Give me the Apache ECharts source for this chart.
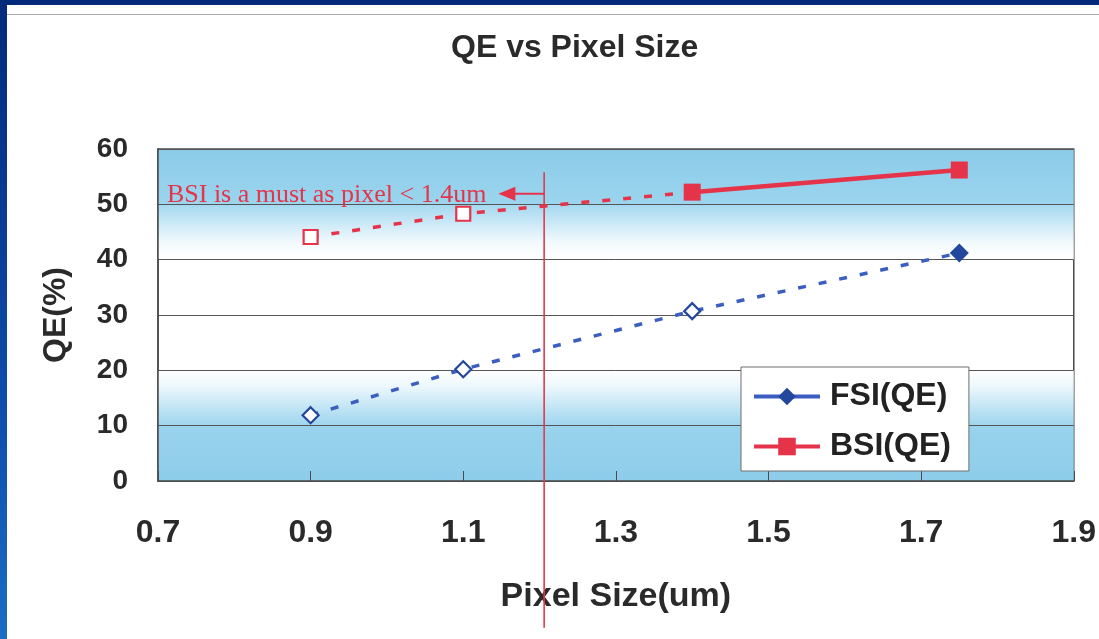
<!DOCTYPE html>
<html>
<head>
<meta charset="utf-8">
<title>QE vs Pixel Size</title>
<script src="https://cdn.jsdelivr.net/npm/echarts@6/dist/echarts.min.js"></script>
<style>
  html, body { margin: 0; padding: 0; background: #ffffff; }
  #chart { width: 1099px; height: 639px; }
</style>
</head>
<body>
<div id="chart"></div>
<script>
// Pixel size (um) of each sensor generation
const pixelSize = [0.9, 1.1, 1.4, 1.75];
// Quantum efficiency (%) for front-side and back-side illumination
const fsiQE = [11.9, 20.2, 30.7, 41.2];
const bsiQE = [44.1, 48.3, 52.2, 56.2];
// Measured points are filled; projected points are hollow and joined by dashes
const fsiMeasured = [false, false, false, true];
const bsiMeasured = [false, false, true, true];

// Axis ranges and steps
const xRange = [0.7, 1.9];
const xStep = 0.2;
const yRange = [0, 60];
const yStep = 10;

// Annotation: BSI becomes necessary below this pixel size
const noteText = 'BSI is a must as pixel < 1.4um';
const cutoffSize = 1.206;
const cutoffSpan = [55.8, -26.5];
const noteLevel = 51.9;
const arrowTipSize = 1.146;

const BLUE_LINE = '#3b5ec0';
const BLUE_MARK = '#24479e';
const RED = '#e5344a';
const FONT = '"Liberation Sans", Arial, sans-serif';

const chart = echarts.init(document.getElementById('chart'));

function grad(stops) {
  return { type: 'linear', x: 0, y: 0, x2: 0, y2: 1, colorStops: stops };
}

const fsiData = pixelSize.map((x, i) => ({
  value: [x, fsiQE[i]],
  symbolSize: fsiMeasured[i] ? 19 : 16,
  itemStyle: fsiMeasured[i]
    ? { color: BLUE_MARK, borderWidth: 0 }
    : { color: '#ffffff', borderColor: BLUE_MARK, borderWidth: 2.2 }
}));

const firstBsiMeasured = bsiMeasured.indexOf(true);
const bsiProjected = pixelSize.slice(0, firstBsiMeasured + 1).map((x, i) => ({
  value: [x, bsiQE[i]],
  symbol: bsiMeasured[i] ? 'none' : 'rect',
  symbolSize: 14,
  itemStyle: { color: '#ffffff', borderColor: RED, borderWidth: 2.2 }
}));
const bsiMeasuredData = pixelSize
  .map((x, i) => [x, bsiQE[i]])
  .filter((p, i) => bsiMeasured[i]);

const option = {
  animation: false,
  backgroundColor: '#ffffff',
  title: {
    text: 'QE vs Pixel Size',
    left: 446,
    top: 27,
    textStyle: { fontFamily: FONT, fontWeight: 'bold', fontSize: 32, color: '#2a2a2a' }
  },
  grid: {
    left: 158, top: 149, right: 21, bottom: 158,
    show: true, backgroundColor: '#ffffff',
    borderColor: '#4a4a4a', borderWidth: 1.5
  },
  legend: {
    orient: 'vertical',
    left: 741, top: 367,
    padding: [13, 18, 8, 11],
    itemWidth: 66, itemHeight: 22, itemGap: 17,
    backgroundColor: '#ffffff',
    borderColor: '#6e6e6e', borderWidth: 1,
    textStyle: { fontFamily: FONT, fontWeight: 'bold', fontSize: 32, color: '#222222', lineHeight: 33, padding: [0, 0, 0, 5] },
    data: [
      { name: 'FSI(QE)', itemStyle: { color: BLUE_MARK, borderWidth: 0 }, lineStyle: { type: 'solid', color: BLUE_LINE, width: 4 } },
      { name: 'BSI(QE)', itemStyle: { color: RED, borderWidth: 0 }, lineStyle: { type: 'solid', color: RED, width: 4 } }
    ]
  },
  xAxis: {
    type: 'value',
    min: xRange[0], max: xRange[1], interval: xStep,
    z: 1.5,
    name: 'Pixel Size(um)',
    nameLocation: 'middle',
    nameGap: 99,
    nameTextStyle: { fontFamily: FONT, fontWeight: 'bold', fontSize: 34, color: '#2a2a2a' },
    axisLine: { show: true, lineStyle: { color: '#4a4a4a', width: 1.5 } },
    axisTick: { show: true, inside: true, length: 10, lineStyle: { color: '#4a4a4a', width: 1 } },
    splitLine: { show: false },
    axisLabel: {
      margin: 36,
      fontFamily: FONT, fontWeight: 'bold', fontSize: 32, color: '#2a2a2a',
      formatter: v => v.toFixed(1)
    }
  },
  yAxis: {
    type: 'value',
    min: yRange[0], max: yRange[1], interval: yStep,
    z: 1.5,
    name: 'QE(%)',
    nameLocation: 'middle',
    nameRotate: 90,
    nameGap: 86,
    nameTextStyle: { fontFamily: FONT, fontWeight: 'bold', fontSize: 32, color: '#2a2a2a' },
    axisLine: { show: true, lineStyle: { color: '#4a4a4a', width: 1.5 } },
    axisTick: { show: false },
    splitLine: { show: true, lineStyle: { color: '#555555', width: 1 } },
    axisLabel: { margin: 30, fontFamily: FONT, fontWeight: 'bold', fontSize: 28, color: '#2a2a2a' }
  },
  series: [
    {
      name: 'FSI(QE)',
      type: 'line',
      symbol: 'diamond',
      z: 3,
      itemStyle: { color: '#ffffff', borderColor: BLUE_MARK, borderWidth: 2.2 },
      lineStyle: { color: BLUE_LINE, width: 3.5, type: [8, 13] },
      data: fsiData,
      markArea: {
        silent: true,
        data: [
          [{ yAxis: 50, itemStyle: { color: grad([{ offset: 0, color: '#8bcbe8' }, { offset: 1, color: '#9bd5ee' }]) } }, { yAxis: 60 }],
          [{ yAxis: 40, itemStyle: { color: grad([{ offset: 0, color: '#a3d8f0' }, { offset: 0.2, color: '#bbe2f4' }, { offset: 0.7, color: '#f3fafd' }, { offset: 1, color: '#ffffff' }]) } }, { yAxis: 50 }],
          [{ yAxis: 10, itemStyle: { color: grad([{ offset: 0, color: '#ffffff' }, { offset: 0.3, color: '#ebf7fc' }, { offset: 1, color: '#9dd5ee' }]) } }, { yAxis: 20 }],
          [{ yAxis: 0, itemStyle: { color: grad([{ offset: 0, color: '#99d3ed' }, { offset: 1, color: '#8dcdea' }]) } }, { yAxis: 10 }]
        ]
      }
    },
    {
      name: 'BSI projected',
      type: 'line',
      symbol: 'rect',
      z: 3,
      lineStyle: { color: RED, width: 3.5, type: [8, 13] },
      data: bsiProjected
    },
    {
      name: 'BSI(QE)',
      type: 'line',
      symbol: 'rect',
      symbolSize: 17,
      z: 4,
      itemStyle: { color: RED },
      lineStyle: { color: RED, width: 4.5 },
      data: bsiMeasuredData
    }
  ]
};

chart.setOption(option);

// Page frame and the pixel-size cut-off annotation
const cx = chart.convertToPixel({ xAxisIndex: 0 }, cutoffSize);
const yTop = chart.convertToPixel({ yAxisIndex: 0 }, cutoffSpan[0]);
const yBot = chart.convertToPixel({ yAxisIndex: 0 }, cutoffSpan[1]);
const ny = chart.convertToPixel({ yAxisIndex: 0 }, noteLevel);
const tipX = chart.convertToPixel({ xAxisIndex: 0 }, arrowTipSize);

chart.setOption({
  graphic: [
    { type: 'rect', z: 100, shape: { x: 0, y: 0, width: 1099, height: 5 }, style: { fill: '#022a7b' } },
    { type: 'rect', z: 100, shape: { x: 0, y: 0, width: 7, height: 639 },
      style: { fill: grad([{ offset: 0, color: '#022a7b' }, { offset: 0.6, color: '#0e4aa8' }, { offset: 1, color: '#1b6cc4' }]) } },
    { type: 'line', z: 99, shape: { x1: 7, y1: 14.5, x2: 1099, y2: 14.5 }, style: { stroke: '#a8a8a8', lineWidth: 1 } },
    { type: 'line', z: 50, shape: { x1: cx, y1: yTop, x2: cx, y2: yBot }, style: { stroke: '#e0394c', lineWidth: 1.6 } },
    { type: 'line', z: 50, shape: { x1: cx, y1: ny, x2: tipX + 12, y2: ny }, style: { stroke: RED, lineWidth: 2 } },
    { type: 'polygon', z: 50, shape: { points: [[tipX, ny], [tipX + 17, ny - 7], [tipX + 17, ny + 7]] }, style: { fill: RED } },
    { type: 'text', z: 50, x: tipX - 12, y: ny + 1,
      style: { text: noteText, fill: RED, font: '26px "Liberation Serif", "Times New Roman", serif', align: 'right', verticalAlign: 'middle' } }
  ]
});
</script>
</body>
</html>
